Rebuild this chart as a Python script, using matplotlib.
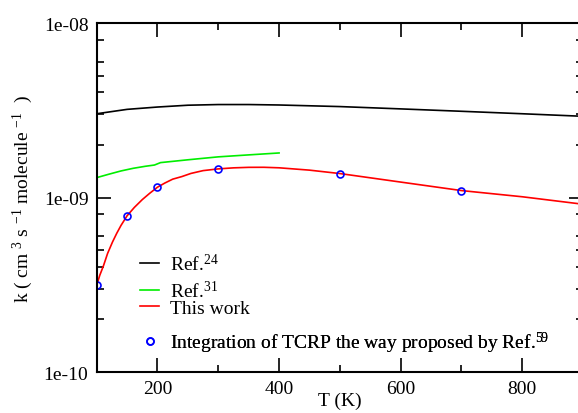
import numpy as np
import matplotlib
matplotlib.use("Agg")
import matplotlib.pyplot as plt
from matplotlib.ticker import FixedLocator, FixedFormatter, NullFormatter

# ---- rate constants k(T) in cm^3 s^-1 molecule^-1 ----
T_ref24 = [100, 150, 200, 250, 300, 350, 400, 500, 600, 700, 800, 900]
k_ref24 = [3.02e-9, 3.20e-9, 3.30e-9, 3.38e-9, 3.41e-9, 3.41e-9, 3.39e-9,
           3.32e-9, 3.22e-9, 3.12e-9, 3.02e-9, 2.92e-9]

T_ref31 = [100, 120, 140, 160, 180, 195, 205, 250, 300, 350, 400]
k_ref31 = [1.30e-9, 1.36e-9, 1.42e-9, 1.47e-9, 1.51e-9, 1.535e-9, 1.585e-9,
           1.645e-9, 1.71e-9, 1.755e-9, 1.80e-9]

T_this = [100, 105, 111, 118, 126, 133, 140, 150, 162, 175, 187, 200,
          212, 225, 240, 255, 275, 300, 325, 350, 375, 400, 450, 500,
          600, 700, 800, 900]
k_this = [3.14e-10, 3.58e-10, 4.05e-10, 4.79e-10, 5.56e-10, 6.24e-10, 6.92e-10,
          7.86e-10, 8.78e-10, 9.73e-10, 1.056e-9, 1.146e-9,
          1.21e-9, 1.274e-9, 1.318e-9, 1.374e-9, 1.426e-9, 1.459e-9, 1.479e-9,
          1.489e-9, 1.49e-9, 1.48e-9, 1.435e-9, 1.372e-9,
          1.226e-9, 1.096e-9, 1.01e-9, 9.15e-10]

T_tcrp = [100, 150, 200, 300, 500, 700]
k_tcrp = [3.14e-10, 7.86e-10, 1.146e-9, 1.459e-9, 1.372e-9, 1.096e-9]

plt.rcParams['font.family'] = ['Liberation Serif', 'DejaVu Serif']
plt.rcParams['mathtext.fontset'] = 'custom'
plt.rcParams['mathtext.rm'] = 'Liberation Serif'
plt.rcParams['mathtext.it'] = 'Liberation Serif'
plt.rcParams['mathtext.default'] = 'regular'

fs = 14
fig = plt.figure(figsize=(5.78, 4.14), dpi=100)
ax = fig.add_axes([0.1673, 0.099, 0.8414, 0.843])

l24, = ax.plot(T_ref24, k_ref24, color="black", lw=1.2)
l31, = ax.plot(T_ref31, k_ref31, color="#00ee00", lw=1.2)
lthis, = ax.plot(T_this, k_this, color="red", lw=1.2)
ltcrp, = ax.plot(T_tcrp, k_tcrp, ls="none", marker="o", ms=5, mfc="none",
                 mec="blue", mew=1.2)

ax.set_yscale("log")
ax.set_xlim(100, 900)
ax.set_ylim(1e-10, 1e-8)

# x ticks
ax.xaxis.set_major_locator(FixedLocator([200, 400, 600, 800]))
ax.xaxis.set_minor_locator(FixedLocator([300, 500, 700]))

# y ticks: decades labelled, minor at 2,3,4,5,6,8
ax.yaxis.set_major_locator(FixedLocator([1e-10, 1e-9, 1e-8]))
ax.yaxis.set_major_formatter(FixedFormatter(["1e-10", "1e-09", "1e-08"]))
minors = [m * d for d in (1e-10, 1e-9) for m in (2, 3, 4, 5, 6, 8)]
ax.yaxis.set_minor_locator(FixedLocator(minors))
ax.yaxis.set_minor_formatter(NullFormatter())

ax.tick_params(which="both", direction="in", top=True, right=True,
               labelsize=fs, width=1.2)
ax.tick_params(which="major", length=10, pad=6)
ax.tick_params(which="minor", length=5)
for sp in ax.spines.values():
    sp.set_linewidth(1.5)

ax.set_xlabel("T (K)", fontsize=fs, labelpad=-4)
ax.set_ylabel(r"k ( cm $^{3}$ s $^{-1}$ molecule $^{-1}$  )",
              fontsize=fs, labelpad=6)

# legend entries placed one by one (uneven row spacing)
entries = [
    (l24, r"Ref.$^{24}$", 0.312),
    (l31, r"Ref.$^{31}$", 0.234),
    (lthis, "This work", 0.184),
    (ltcrp, r"Integration of TCRP the way proposed by Ref.$^{59}$", 0.086),
]
for h, lab, yy in entries:
    lg = ax.legend([h], [lab], loc="center left", bbox_to_anchor=(0.089, yy),
                   frameon=False, fontsize=fs, handlelength=1.0,
                   handletextpad=0.55, borderpad=0, borderaxespad=0)
    ax.add_artist(lg)

fig.savefig("out.png", dpi=100)
